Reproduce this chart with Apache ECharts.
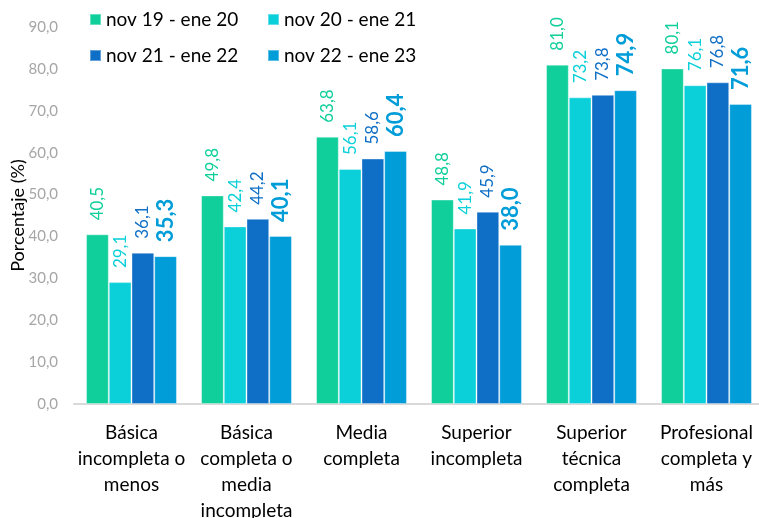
<!DOCTYPE html>
<html>
<head>
<meta charset="utf-8">
<script src="https://cdn.jsdelivr.net/npm/echarts@6/dist/echarts.min.js"></script>
<style>
html,body{margin:0;padding:0;background:#fff;}
#chart{width:759px;height:518px;}
</style>
</head>
<body>
<div id="chart"></div>
<script>
var categories = [
  "Básica\nincompleta o\nmenos",
  "Básica\ncompleta o\nmedia\nincompleta",
  "Media\ncompleta",
  "Superior\nincompleta",
  "Superior\ntécnica\ncompleta",
  "Profesional\ncompleta y\nmás"
];
var seriesNames = ["nov 19 - ene 20", "nov 20 - ene 21", "nov 21 - ene 22", "nov 22 - ene 23"];
var s1 = [40.5, 49.8, 63.8, 48.8, 81.0, 80.1];
var s2 = [29.1, 42.4, 56.1, 41.9, 73.2, 76.1];
var s3 = [36.1, 44.2, 58.6, 45.9, 73.8, 76.8];
var s4 = [35.3, 40.1, 60.4, 38.0, 74.9, 71.6];
var colors = ["#10CF9B", "#0BD0D9", "#0F6FC6", "#009DD9"];

var FONT = "Lato";
function fmt(p){ return p.value.toFixed(1).replace('.', ','); }

var seriesData = [s1, s2, s3, s4];
var series = seriesData.map(function(d, i){
  var last = i === 3;
  return {
    name: seriesNames[i],
    type: 'bar',
    data: d,
    barGap: '0%',
    barCategoryGap: '21%',
    itemStyle: { color: colors[i], borderColor: 'rgba(255,255,255,0.35)', borderWidth: 1 },
    label: {
      show: true,
      position: 'top',
      rotate: 90,
      align: 'left',
      verticalAlign: 'middle',
      distance: 14,
      formatter: fmt,
      color: colors[i],
      fontFamily: FONT,
      fontSize: last ? 22 : 17,
      fontWeight: last ? 'bold' : 'normal'
    }
  };
});

var legendPos = [[89, 10], [267, 10], [89, 46], [267, 46]];
var legends = seriesNames.map(function(n, i){
  return {
    data: [n],
    left: legendPos[i][0],
    top: legendPos[i][1],
    padding: 0,
    itemWidth: 11,
    itemHeight: 11,
    itemGap: 6,
    icon: 'rect',
    textStyle: { fontFamily: FONT, fontSize: 19, color: '#000' }
  };
});

var chart = echarts.init(document.getElementById('chart'), null, {renderer: 'canvas'});
chart.setOption({
  animation: false,
  color: colors,
  legend: legends,
  grid: { left: 74, top: 27, width: 690, height: 377, containLabel: false, outerBoundsMode: 'none' },
  xAxis: {
    type: 'category',
    data: categories,
    axisLine: { lineStyle: { color: '#D9D9D9', width: 2 } },
    axisTick: { show: false },
    axisLabel: {
      interval: 0,
      margin: 16,
      fontFamily: FONT,
      fontSize: 19,
      lineHeight: 26,
      color: '#000',
      align: 'center'
    }
  },
  yAxis: {
    type: 'value',
    min: 0,
    max: 90,
    interval: 10,
    name: 'Porcentaje (%)',
    nameLocation: 'middle',
    nameGap: 47,
    nameMoveOverlap: false,
    nameTextStyle: { fontFamily: FONT, fontSize: 18, color: '#000' },
    axisLine: { show: false },
    axisTick: { show: false },
    splitLine: { show: false },
    axisLabel: {
      margin: 16,
      fontFamily: FONT,
      fontSize: 15,
      color: '#A6A6A6',
      formatter: function(v){ return v.toFixed(1).replace('.', ','); }
    }
  },
  series: series
});
</script>
</body>
</html>
